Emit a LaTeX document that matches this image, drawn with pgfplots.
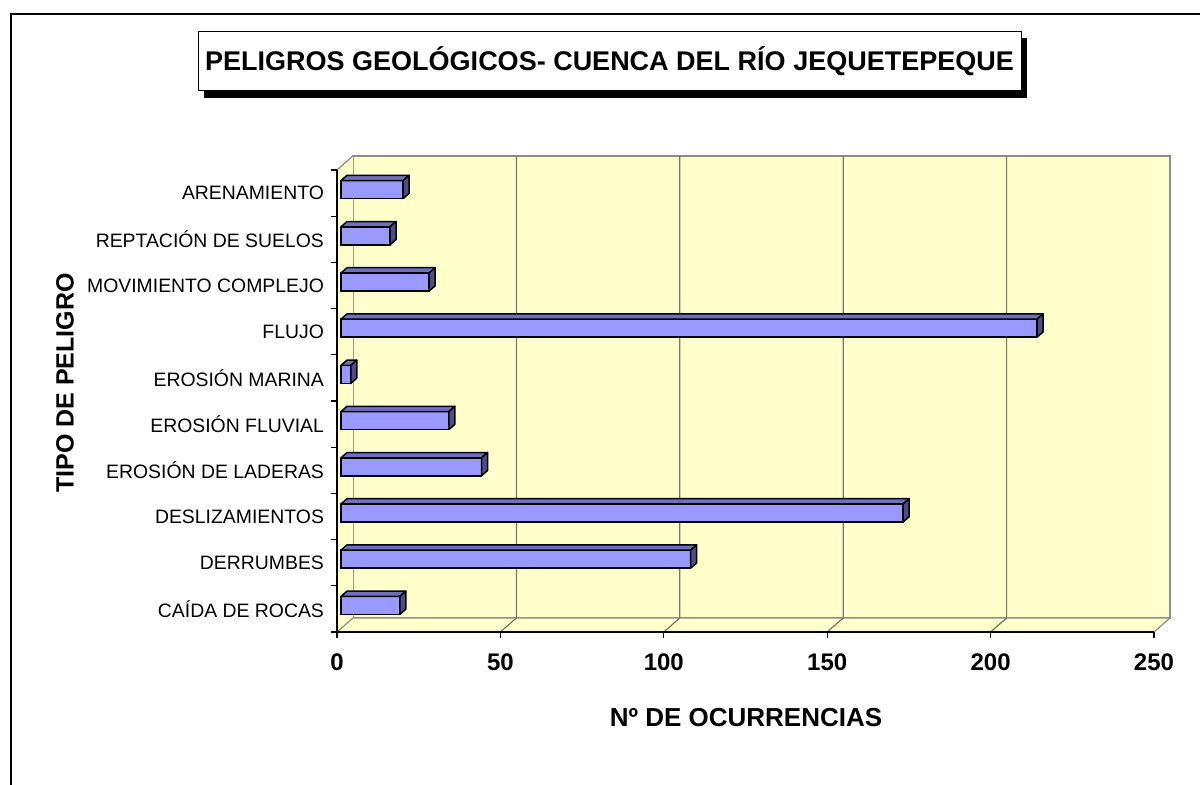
\documentclass[border=0pt]{standalone}
\usepackage{fontspec}
\setmainfont{Liberation Sans}
\usepackage{pgfplots}
\pgfplotsset{compat=1.18}
\usepackage{pgfplotstable}
\definecolor{wall}{HTML}{FFFFCC}
\definecolor{wallgray}{HTML}{8C8C8C}
\definecolor{gridc}{HTML}{76766A}
\definecolor{barfront}{HTML}{9999FF}
\definecolor{bartop}{HTML}{7070C0}
\definecolor{barside}{HTML}{4D4D8C}
% c: category index (0 = CAIDA DE ROCAS ... 9 = ARENAMIENTO), v: occurrences
\pgfplotstableread{
c v
0 18
1 107
2 172
3 43
4 33
5 3
6 213
7 27
8 15
9 19
}\datatab
\begin{document}
\begin{tikzpicture}[x=1pt,y=1pt]
\fill[white] (0,0) rectangle (600,392.5);
\draw[black, line width=0.75pt] (5.5,0) -- (5.5,385.5) -- (600,385.5);
\fill[black] (102,343.5) rectangle (513.5,373.5);
\filldraw[fill=white,draw=black,line width=0.5pt] (99,347) rectangle (510.5,376.5);
\node[font=\fontsize{13.5}{16}\selectfont\bfseries] at (304.75,361.75) {PELIGROS GEOLÓGICOS- CUENCA DEL RÍO JEQUETEPEQUE};
\begin{axis}[
  at={(168.5pt,76.5pt)}, anchor=south west,
  width=408.5pt, height=231pt, scale only axis,
  xmin=0, xmax=250, ymin=-0.5, ymax=9.5,
  clip=false,
  axis on top,
  axis lines*=left,
  axis line style={black, line width=0.75pt},
  tick align=outside,
  major tick length=3pt, minor tick length=3pt,
  tick style={black, line width=0.6pt},
  xtick={0,50,...,250},
  ytick={0,...,9},
  minor ytick={-0.5,0.5,...,9.5},
  major y tick style={draw=none},
  yticklabels={CAÍDA DE ROCAS, DERRUMBES, DESLIZAMIENTOS, EROSIÓN DE LADERAS, EROSIÓN FLUVIAL, EROSIÓN MARINA, FLUJO, MOVIMIENTO COMPLEJO, REPTACIÓN DE SUELOS, ARENAMIENTO},
  xticklabel style={font=\fontsize{12}{14}\selectfont\bfseries, yshift=-4.5pt},
  yticklabel style={font=\fontsize{9.7}{11}\selectfont},
  /pgf/number format/assume math mode=true,
]
  \filldraw[fill=wall, draw=wallgray, line width=0.6pt] ([shift={(8pt,7pt)}]rel axis cs:0,0) rectangle ([shift={(8pt,7pt)}]rel axis cs:1,1);
  \fill[wall] (rel axis cs:0,0) -- (rel axis cs:0,1) -- ([shift={(8pt,7pt)}]rel axis cs:0,1) -- ([shift={(8pt,7pt)}]rel axis cs:0,0) -- cycle;
  \filldraw[fill=wall, draw=wallgray, line width=0.6pt] (rel axis cs:0,0) -- (rel axis cs:1,0) -- ([shift={(8pt,7pt)}]rel axis cs:1,0) -- ([shift={(8pt,7pt)}]rel axis cs:0,0) -- cycle;
  \draw[wallgray, line width=0.6pt] (rel axis cs:0,1) -- ([shift={(8pt,7pt)}]rel axis cs:0,1);
  \pgfplotsinvokeforeach{50,100,150,200}{
    \draw[gridc, line width=0.6pt] (axis cs:#1,-0.5) -- ([shift={(8pt,7pt)}]axis cs:#1,-0.5) -- ([shift={(8pt,7pt)}]axis cs:#1,9.5);
  }
\addplot[xbar, bar width=9pt, fill=barfront, draw=black, line width=0.75pt, xshift=2pt, yshift=1.75pt] table[x=v,y=c]{\datatab};
\addplot[scatter, only marks, mark=*, mark size=0pt, mark options={draw=none,fill=none},
  visualization depends on={\thisrow{v} \as \barval},
  scatter/@pre marker code/.code={%
    \pgfmathsetmacro\Xa{2-\barval*1.634}%
    \pgfmathsetmacro\Xb{5-\barval*1.634}%
    \filldraw[fill=bartop,draw=black,line width=0.75pt,line join=round] (\Xa pt,6.25pt) -- (2pt,6.25pt) -- (5pt,8.875pt) -- (\Xb pt,8.875pt) -- cycle;
    \filldraw[fill=barside,draw=black,line width=0.75pt,line join=round] (2pt,-2.75pt) -- (5pt,-0.125pt) -- (5pt,8.875pt) -- (2pt,6.25pt) -- cycle;
  },
  scatter/@post marker code/.code={},
] table[x=v,y=c]{\datatab};
\end{axis}
\node[font=\fontsize{13}{15}\selectfont\bfseries] at (373,33.5) {Nº DE OCURRENCIAS};
\node[rotate=90, font=\fontsize{12.5}{15}\selectfont\bfseries] at (32.5,201) {TIPO DE PELIGRO};
\pgfresetboundingbox
\useasboundingbox (0,0) rectangle (600,392.5);
\end{tikzpicture}
\end{document}
